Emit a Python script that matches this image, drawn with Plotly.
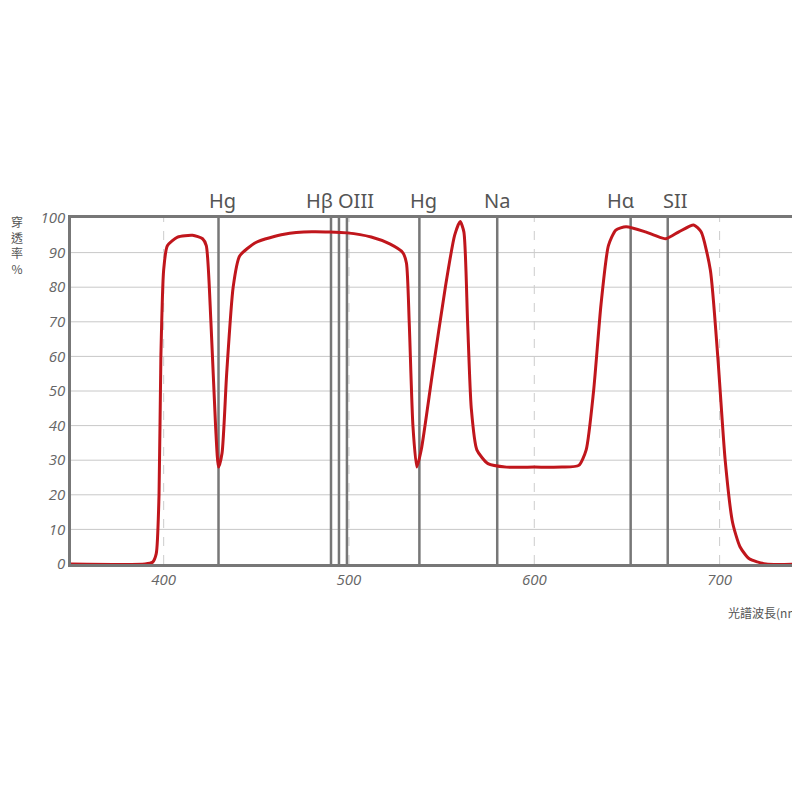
import plotly.graph_objects as go

wl = [350, 390, 394, 396, 397.5, 398.5, 400, 402, 407.5, 415.6, 421, 423, 425.5, 428, 429.6, 431.5, 434, 437.5, 441, 450, 465, 480, 499, 512, 522, 529, 531, 532.5, 534.5, 536.6, 539, 545, 552, 557, 560, 562, 564, 566, 569, 575, 585, 600, 615, 624, 628, 632, 636, 640, 644, 649.5, 660, 665, 671, 678, 686, 690, 695, 699, 703, 707, 711, 716, 725, 745]
tr = [0, 0, 0.5, 3, 20, 60, 85, 92, 94.5, 95, 94, 92, 70, 40, 28, 32, 55, 80, 89, 93, 95.3, 96, 95.7, 94.5, 92.5, 90, 87, 70, 40, 28, 33, 55, 80, 95, 99, 96, 70, 45, 33, 29, 28, 28, 28, 28.5, 33, 50, 75, 92, 96.5, 97.5, 96, 95, 94, 96, 98, 96, 85, 60, 30, 12, 5, 1.5, 0, 0]

solid_lines = [429.6, 490.3, 494.6, 498.9, 538, 580, 652, 672]
dashed_lines = [400, 500, 600, 700]
line_labels = ["Hg", "Hβ", "OIII", "Hg", "Na", "Hα", "SII"]
label_pos = [432, 484, 504, 540, 580, 647, 676]

fig = go.Figure()
shapes = []
for y in range(10, 100, 10):
    shapes.append(dict(type="line", xref="x", yref="y", x0=350, x1=745, y0=y, y1=y, line=dict(color="#c8c8c8", width=1), layer="below"))
for x in dashed_lines:
    shapes.append(dict(type="line", xref="x", yref="y", x0=x, x1=x, y0=0, y1=100, line=dict(color="#cccccc", width=1, dash="dash"), layer="below"))
for x in solid_lines:
    shapes.append(dict(type="line", xref="x", yref="y", x0=x, x1=x, y0=0, y1=100, line=dict(color="#777777", width=2.5), layer="below"))

fig.add_trace(go.Scatter(x=wl, y=tr, mode="lines", line=dict(color="#c0161c", width=3, shape="spline", smoothing=0.6)))

ann = []
for t, x in zip(line_labels, label_pos):
    ann.append(dict(x=x, y=1, xref="x", yref="paper", yshift=2, text=t, showarrow=False, yanchor="bottom", font=dict(size=20, color="#555555", family="Noto Sans")))
ann.append(dict(x=0, y=1.02, xref="paper", yref="paper", xshift=-54, text="穿<br>透<br>率<br>%", showarrow=False, xanchor="center", yanchor="top", font=dict(size=12, color="#555555", family="Noto Sans CJK TC")))
ann.append(dict(x=1, y=0, xref="paper", yref="paper", xshift=2, yshift=-38, text="光譜波長(nm)", showarrow=False, xanchor="right", yanchor="top", font=dict(size=12, color="#555555", family="Noto Sans CJK TC")))

fig.update_layout(
    width=800, height=800, paper_bgcolor="white", plot_bgcolor="white", showlegend=False,
    margin=dict(l=63, r=5, t=210, b=244, autoexpand=False),
    shapes=shapes, annotations=ann,
    xaxis=dict(range=[350, 745], tickvals=[400, 500, 600, 700], showgrid=False, zeroline=False, automargin=False,
               showline=True, linecolor="#777777", linewidth=2.5, mirror=True, ticks="",
               tickfont=dict(size=15, color="#666666", family="Open Sans", style="italic")),
    yaxis=dict(range=[0, 100], tickvals=list(range(0, 101, 10)), showgrid=False, zeroline=False, automargin=False,
               showline=True, linecolor="#777777", linewidth=2.5, mirror=True, ticks="",
               tickfont=dict(size=15, color="#666666", family="Open Sans", style="italic")),
)
fig.write_html("out.html")
